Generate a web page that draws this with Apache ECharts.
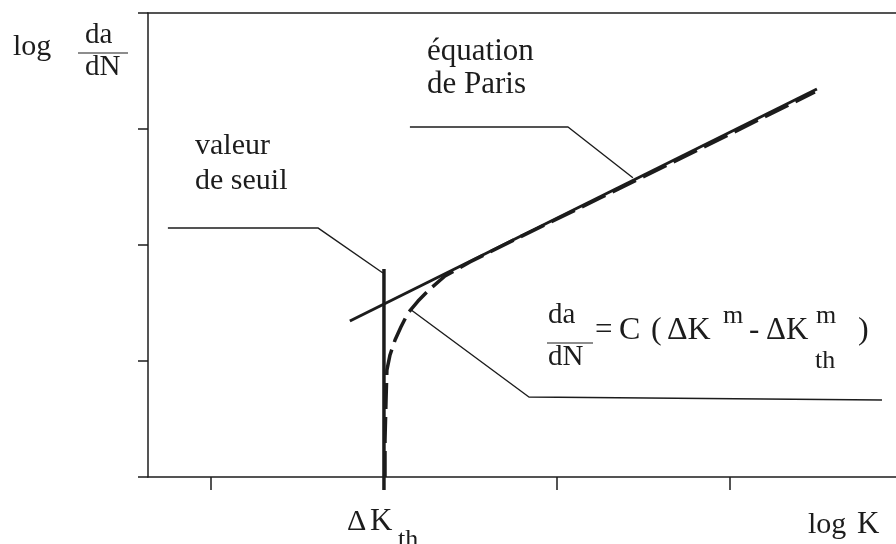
<!DOCTYPE html>
<html>
<head>
<meta charset="utf-8">
<script src="https://cdn.jsdelivr.net/npm/echarts@6/dist/echarts.min.js"></script>
<style>
  html, body { margin: 0; padding: 0; background: #fff; }
  #chart { width: 896px; height: 544px; }
</style>
</head>
<body>
<div id="chart"></div>
<script>
// Axis ranges (log ΔK horizontally, log da/dN vertically)
const xMin = 0.636;
const xMax = 4.96;
const xTickValues = [1, 2, 3, 4];
const yMin = 0;
const yMax = 4;
const yInterval = 1;

// Threshold value ΔK_th on the log K axis
const deltaKth = 2;

// Paris law: straight line in log-log coordinates
const parisLine = [[1.803, 1.345], [4.503, 3.345]];

// Vertical asymptote at the threshold (runs slightly below the axis, like a tick)
const thresholdLine = [[deltaKth, -0.112], [deltaKth, 1.793]];

// Curve with threshold: da/dN = C (ΔK^m - ΔK_th^m)
const thresholdCurve = [
  [2.006, 0.0], [2.006, 0.319], [2.012, 0.664], [2.017, 0.922],
  [2.035, 1.052], [2.064, 1.181], [2.098, 1.293], [2.139, 1.414],
  [2.197, 1.517], [2.266, 1.621], [2.353, 1.733], [2.497, 1.853],
  [2.786, 2.069], [3.249, 2.405], [3.827, 2.828], [4.491, 3.319]
];

// Leader lines from the annotations to the curves
const leaderSeuil = [[0.751, 2.147], [1.618, 2.147], [1.994, 1.759]];
const leaderParis = [[2.150, 3.017], [3.064, 3.017], [3.439, 2.58]];
const leaderFormule = [[2.150, 1.448], [2.838, 0.690], [4.879, 0.664]];

const ink = '#1c1c1c';
const serif = '"Liberation Serif", "DejaVu Serif", serif';

function lineSeries(data, width, dash) {
  return {
    type: 'line',
    data: data,
    symbol: 'none',
    silent: true,
    clip: false,
    animation: false,
    lineStyle: { color: ink, width: width, type: dash || 'solid', cap: 'butt', join: 'round' }
  };
}

// Text placed by baseline; zrender draws with a middle baseline
function label(text, x, baseline, size, align) {
  size = size || 30;
  return {
    type: 'text',
    x: x,
    y: baseline - 0.34 * size,
    silent: true,
    style: {
      text: text,
      font: size + 'px ' + serif,
      fill: ink,
      align: align || 'left',
      verticalAlign: 'middle'
    }
  };
}

function bar(x1, x2, y) {
  return {
    type: 'line',
    silent: true,
    shape: { x1: x1, y1: y, x2: x2, y2: y },
    style: { stroke: ink, lineWidth: 1.2 }
  };
}

const chart = echarts.init(document.getElementById('chart'), null, { renderer: 'canvas' });

chart.setOption({
  backgroundColor: '#ffffff',
  animation: false,
  grid: { left: 148, right: 0, top: 13, bottom: 67, containLabel: false },
  xAxis: [
    {
      type: 'value',
      position: 'bottom',
      min: xMin,
      max: xMax,
      axisLine: { show: true, lineStyle: { color: ink, width: 1.5 } },
      axisTick: {
        show: true, inside: false, length: 13,
        customValues: xTickValues,
        lineStyle: { color: ink, width: 1.5 }
      },
      axisLabel: { show: false },
      splitLine: { show: false }
    },
    {
      type: 'value',
      position: 'top',
      min: xMin,
      max: xMax,
      axisLine: { show: true, lineStyle: { color: ink, width: 1.5 } },
      axisTick: { show: false },
      axisLabel: { show: false },
      splitLine: { show: false }
    }
  ],
  yAxis: {
    type: 'value',
    min: yMin,
    max: yMax,
    interval: yInterval,
    axisLine: { show: true, onZero: false, lineStyle: { color: ink, width: 1.5 } },
    axisTick: { show: true, inside: false, length: 10, lineStyle: { color: ink, width: 1.5 } },
    axisLabel: { show: false },
    splitLine: { show: false }
  },
  series: [
    lineSeries(leaderSeuil, 1.4),
    lineSeries(leaderParis, 1.4),
    lineSeries(leaderFormule, 1.4),
    lineSeries(thresholdLine, 3.5),
    lineSeries(parisLine, 3),
    lineSeries(thresholdCurve, 3.5, [26, 8])
  ],
  graphic: [
    // vertical axis title: log da/dN
    label('log', 13, 57, 30),
    label('da', 85, 45, 29),
    bar(78, 128, 53),
    label('dN', 85, 77, 29),
    // annotations
    label('équation', 427, 62, 31),
    label('de Paris', 427, 95, 31),
    label('valeur', 195, 156, 30),
    label('de seuil', 195, 191, 30),
    // formula
    label('da', 548, 325, 29),
    bar(547, 593, 343),
    label('dN', 548, 367, 29),
    label('=', 595, 341, 31),
    label('C', 619, 341, 32),
    label('(', 651, 341, 32),
    label('\u0394K', 667, 341, 32),
    label('m', 723, 325, 26),
    label('-', 749, 341, 31),
    label('\u0394K', 766, 341, 31),
    label('m', 816, 325, 26),
    label('th', 815, 370, 26),
    label(')', 858, 341, 32),
    // horizontal axis labels
    label('\u0394', 347, 532, 30),
    label('K', 370, 532, 31),
    label('th', 398, 549, 26),
    label('log', 808, 535, 30),
    label('K', 857, 535, 31)
  ]
});
</script>
</body>
</html>
